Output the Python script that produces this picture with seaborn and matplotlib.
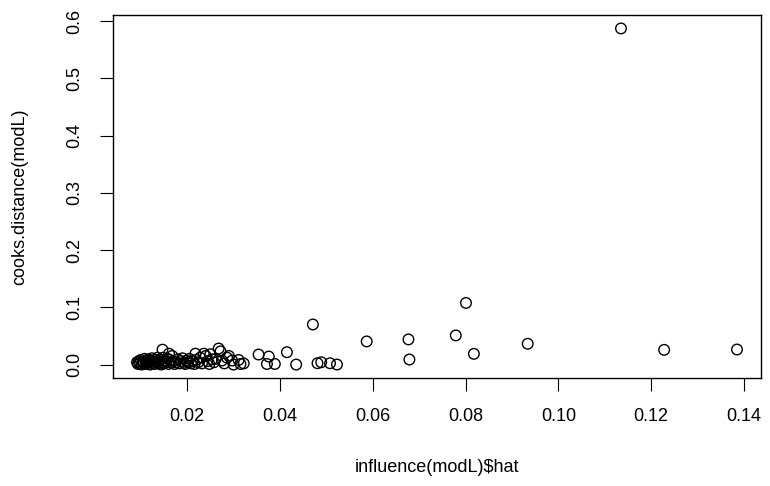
import numpy as np
import pandas as pd
import matplotlib
matplotlib.use("Agg")
import matplotlib.pyplot as plt
import seaborn as sns

hat = [0.0092, 0.0094, 0.0096, 0.0098, 0.0100, 0.0102, 0.0104, 0.0106, 0.0108, 0.0110,
       0.0112, 0.0114, 0.0116, 0.0118, 0.0120, 0.0122, 0.0124, 0.0126, 0.0128, 0.0130,
       0.0132, 0.0134, 0.0136, 0.0138, 0.0140, 0.0142, 0.0144, 0.0146, 0.0147, 0.0148,
       0.0150, 0.0152, 0.0155, 0.0158, 0.0161, 0.0160, 0.0163, 0.0166, 0.0168, 0.0170,
       0.0173, 0.0176, 0.0180, 0.0183, 0.0186, 0.0190, 0.0193, 0.0196, 0.0199, 0.0202,
       0.0205, 0.0208, 0.0212, 0.0216, 0.0218, 0.0220, 0.0224, 0.0228, 0.0232, 0.0236,
       0.0240, 0.0244, 0.0248, 0.0250, 0.0254, 0.0258, 0.0262, 0.0268, 0.0272, 0.0275,
       0.0280, 0.0286, 0.0290, 0.0297, 0.0300, 0.0311, 0.0315, 0.0322,
       0.0354, 0.0376, 0.0372, 0.0389, 0.0415, 0.0435, 0.0471, 0.0481, 0.0489, 0.0508,
       0.0523, 0.0587, 0.0677, 0.0679, 0.0779, 0.0801, 0.0818, 0.0934, 0.1135, 0.1228,
       0.1385]
cooks = [0.004, 0.001, 0.006, 0.002, 0.008, 0.000, 0.005, 0.003, 0.010, 0.001,
         0.006, 0.002, 0.009, 0.004, 0.000, 0.007, 0.011, 0.003, 0.005, 0.001,
         0.008, 0.004, 0.012, 0.002, 0.006, 0.009, 0.000, 0.004, 0.026, 0.012,
         0.002, 0.007, 0.005, 0.010, 0.019, 0.001, 0.008, 0.003, 0.015, 0.006,
         0.001, 0.004, 0.009, 0.002, 0.006, 0.011, 0.003, 0.001, 0.007, 0.004,
         0.010, 0.002, 0.006, 0.001, 0.019, 0.008, 0.004, 0.012, 0.002, 0.019,
         0.015, 0.006, 0.001, 0.018, 0.009, 0.004, 0.010, 0.028, 0.023, 0.007,
         0.002, 0.012, 0.015, 0.007, 0.000, 0.008, 0.001, 0.002,
         0.0175, 0.014, 0.001, 0.001, 0.0216, 0.000, 0.070, 0.0023, 0.004, 0.0023,
         0.000, 0.0404, 0.0439, 0.0088, 0.0509, 0.1076, 0.0187, 0.0363, 0.587, 0.0257,
         0.0263]

xticks = [0.02, 0.04, 0.06, 0.08, 0.10, 0.12, 0.14]
xticklabels = ["0.02", "0.04", "0.06", "0.08", "0.10", "0.12", "0.14"]
yticks = [0.0, 0.1, 0.2, 0.3, 0.4, 0.5, 0.6]
yticklabels = ["0.0", "0.1", "0.2", "0.3", "0.4", "0.5", "0.6"]
xlabel = "influence(modL)$hat"
ylabel = "cooks.distance(modL)"

df = pd.DataFrame({"hat": hat, "cooks": cooks})

sns.set_style("white")
plt.rcParams["font.family"] = ["Liberation Sans", "DejaVu Sans"]
plt.rcParams["text.color"] = "black"
plt.rcParams["xtick.color"] = "black"
plt.rcParams["ytick.color"] = "black"
plt.rcParams["axes.labelcolor"] = "black"

fig = plt.figure(figsize=(7.7, 4.86), dpi=100)
W, H = 770, 486
left, right, top, bottom = 113, 761, 15, 378
ax = fig.add_axes([left / W, 1 - bottom / H, (right - left) / W, (bottom - top) / H])

sns.scatterplot(data=df, x="hat", y="cooks", ax=ax, marker="o", s=58,
                facecolor="none", edgecolor="black", linewidth=1.0)

def rlim(v):
    lo, hi = min(v), max(v)
    r = hi - lo
    return lo - 0.04 * r, hi + 0.04 * r

ax.set_xlim(*rlim(hat))
ax.set_ylim(*rlim(cooks))
ax.set_xticks(xticks)
ax.set_xticklabels(xticklabels)
ax.set_yticks(yticks)
ax.set_yticklabels(yticklabels, rotation=90, va="center")
ax.tick_params(axis="both", direction="out", length=9.6, width=0.8, colors="black",
               labelsize=13, pad=12, bottom=True, left=True)
for sp in ax.spines.values():
    sp.set_visible(True)
    sp.set_color("black")
    sp.set_linewidth(1.0)
ax.set_xlabel("")
ax.set_ylabel("")
fig.text((left + right) / 2 / W, 1 - 467 / H, xlabel, ha="center", va="center",
         fontsize=13, color="black")
fig.text(20 / W, 1 - (top + bottom) / 2 / H, ylabel, ha="center", va="center",
         rotation=90, fontsize=13, color="black")

fig.savefig("out.png", dpi=100)
